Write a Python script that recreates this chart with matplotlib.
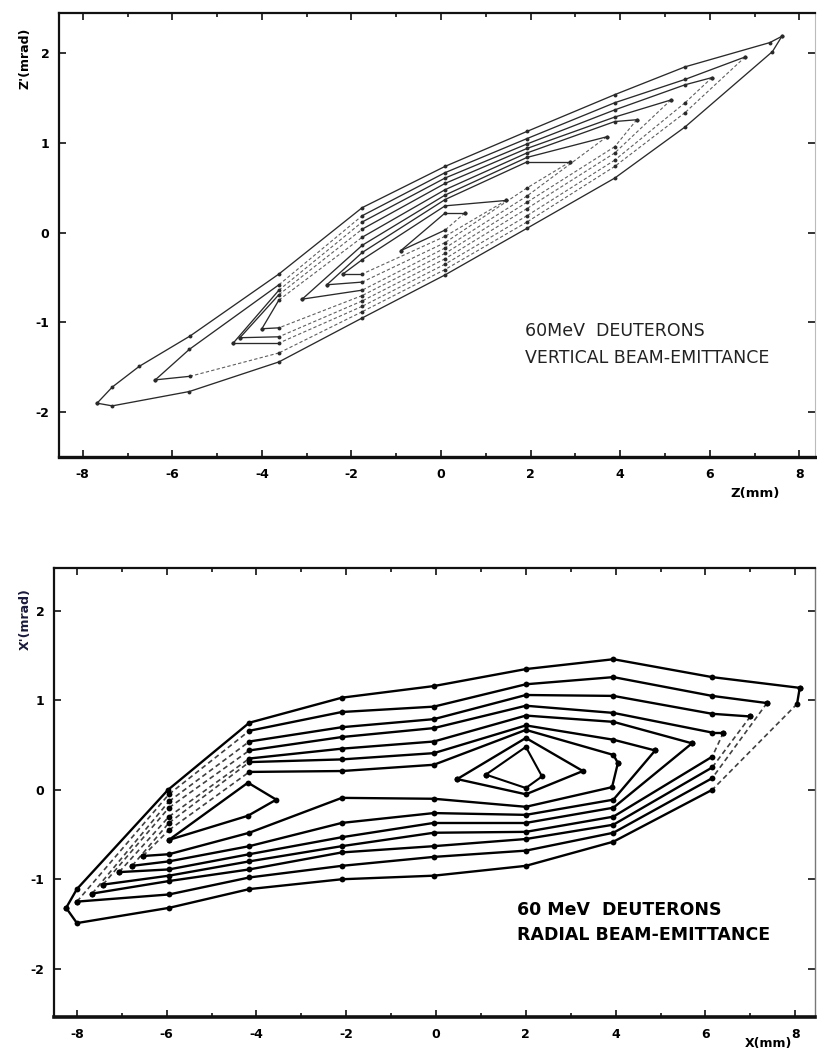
import matplotlib

matplotlib.use("Agg")
import matplotlib.pyplot as plt
from matplotlib.ticker import MultipleLocator, FuncFormatter

plt.rcParams["font.family"] = ["DejaVu Sans"]
plt.rcParams["axes.unicode_minus"] = False

# ---- vertical emittance (top panel): contours split into upper / lower branch
VERT_UPPER_Z = [
    [-7.68, -7.34, -6.74, -5.60, -3.62, -1.76, 0.09, 1.92, 3.88, 5.45, 7.34, 7.61],
    [-6.38, -5.62, -3.62, -1.76, 0.09, 1.92, 3.88, 5.45, 6.79],
    [-4.64, -3.62, -1.76, 0.09, 1.92, 3.88, 5.45, 6.05],
    [-4.49, -3.62, -1.76, 0.09, 1.92, 3.88, 5.13],
    [-4.00, -3.62, -1.76, 0.09, 1.92, 3.88, 4.37],
    [-3.10, -1.76, 0.09, 1.92, 3.70],
    [-2.55, -1.76, 0.09, 1.92, 2.88],
    [-2.19, -1.76, 0.09, 1.45],
    [-0.90, 0.09, 0.53],
]
VERT_UPPER_ZP = [
    [-1.90, -1.72, -1.49, -1.15, -0.46, 0.28, 0.74, 1.13, 1.54, 1.85, 2.12, 2.19],
    [-1.64, -1.30, -0.58, 0.19, 0.67, 1.05, 1.45, 1.71, 1.96],
    [-1.23, -0.64, 0.12, 0.61, 0.99, 1.37, 1.65, 1.73],
    [-1.17, -0.69, 0.04, 0.55, 0.94, 1.29, 1.48],
    [-1.07, -0.75, -0.05, 0.48, 0.89, 1.24, 1.26],
    [-0.74, -0.14, 0.42, 0.84, 1.07],
    [-0.58, -0.22, 0.37, 0.79, 0.79],
    [-0.46, -0.30, 0.30, 0.36],
    [-0.20, 0.22, 0.22],
]
VERT_LOWER_Z = [
    [7.61, 7.40, 5.45, 3.88, 1.92, 0.09, -1.76, -3.62, -5.62, -7.34, -7.68],
    [6.79, 5.45, 3.88, 1.92, 0.09, -1.76, -3.62, -5.60, -6.38],
    [6.05, 5.45, 3.88, 1.92, 0.09, -1.76, -3.62, -4.64],
    [5.13, 3.88, 1.92, 0.09, -1.76, -3.62, -4.49],
    [4.37, 3.88, 1.92, 0.09, -1.76, -3.62, -4.00],
    [3.70, 1.92, 0.09, -1.76, -3.10],
    [2.88, 1.92, 0.09, -1.76, -2.55],
    [1.45, 0.09, -1.76, -2.19],
    [0.53, 0.09, -0.90],
]
VERT_LOWER_ZP = [
    [2.19, 2.02, 1.18, 0.61, 0.05, -0.47, -0.95, -1.44, -1.77, -1.93, -1.90],
    [1.96, 1.34, 0.74, 0.12, -0.41, -0.88, -1.34, -1.60, -1.64],
    [1.73, 1.45, 0.81, 0.19, -0.35, -0.82, -1.23, -1.23],
    [1.48, 0.89, 0.27, -0.29, -0.76, -1.16, -1.17],
    [1.26, 0.96, 0.34, -0.23, -0.70, -1.06, -1.07],
    [1.07, 0.41, -0.17, -0.64, -0.74],
    [0.79, 0.50, -0.11, -0.55, -0.58],
    [0.36, -0.04, -0.46, -0.46],
    [0.22, 0.03, -0.20],
]

# ---- radial emittance (bottom panel)
RAD_UPPER_X = [
    [-8.24, -8.00, -5.97, -4.16, -2.10, -0.05, 2.00, 3.95, 6.15, 8.10],
    [-8.00, -5.95, -4.16, -2.10, -0.05, 2.00, 3.95, 6.15, 7.37],
    [-7.66, -5.95, -4.16, -2.10, -0.05, 2.00, 3.95, 6.15, 7.00],
    [-7.42, -5.95, -4.16, -2.10, -0.05, 2.00, 3.95, 6.15, 6.40],
    [-7.06, -5.95, -4.16, -2.10, -0.05, 2.00, 3.95, 5.70],
    [-6.77, -5.95, -4.16, -2.10, -0.05, 2.00, 3.95, 4.88],
    [-6.53, -5.95, -4.16, -2.10, -0.05, 2.00, 3.95, 4.05],
]
RAD_UPPER_XP = [
    [-1.32, -1.11, 0.00, 0.75, 1.03, 1.16, 1.35, 1.46, 1.26, 1.14],
    [-1.25, -0.05, 0.66, 0.87, 0.93, 1.18, 1.26, 1.05, 0.97],
    [-1.16, -0.13, 0.54, 0.70, 0.79, 1.06, 1.05, 0.85, 0.82],
    [-1.06, -0.20, 0.44, 0.59, 0.69, 0.94, 0.86, 0.64, 0.64],
    [-0.92, -0.30, 0.35, 0.46, 0.54, 0.83, 0.76, 0.52],
    [-0.85, -0.37, 0.31, 0.34, 0.41, 0.72, 0.56, 0.44],
    [-0.74, -0.45, 0.20, 0.21, 0.28, 0.67, 0.39, 0.30],
]
RAD_LOWER_X = [
    [8.10, 8.04, 6.15, 3.95, 2.00, -0.05, -2.10, -4.16, -5.95, -8.00, -8.24],
    [7.37, 6.15, 3.95, 2.00, -0.05, -2.10, -4.16, -5.95, -8.00],
    [7.00, 6.15, 3.95, 2.00, -0.05, -2.10, -4.16, -5.95, -7.66],
    [6.40, 6.15, 3.95, 2.00, -0.05, -2.10, -4.16, -5.95, -7.42],
    [5.70, 3.95, 2.00, -0.05, -2.10, -4.16, -5.95, -7.06],
    [4.88, 3.95, 2.00, -0.05, -2.10, -4.16, -5.95, -6.77],
    [4.05, 3.92, 2.00, -0.05, -2.10, -4.16, -5.95, -6.53],
]
RAD_LOWER_XP = [
    [1.14, 0.96, 0.00, -0.58, -0.85, -0.96, -1.00, -1.11, -1.32, -1.49, -1.32],
    [0.97, 0.13, -0.48, -0.68, -0.75, -0.85, -0.98, -1.17, -1.25],
    [0.82, 0.25, -0.39, -0.55, -0.63, -0.70, -0.89, -1.02, -1.16],
    [0.64, 0.37, -0.30, -0.47, -0.48, -0.63, -0.80, -0.96, -1.06],
    [0.52, -0.20, -0.37, -0.37, -0.53, -0.72, -0.89, -0.92],
    [0.44, -0.11, -0.28, -0.26, -0.37, -0.63, -0.80, -0.85],
    [0.30, 0.03, -0.19, -0.10, -0.09, -0.48, -0.72, -0.74],
]
# small closed islands inside the radial pattern
RAD_LOBE_X = [-5.95, -4.19, -3.56, -4.19, -5.95]
RAD_LOBE_XP = [-0.56, 0.08, -0.11, -0.29, -0.56]
RAD_CORE_B_X = [0.47, 2.00, 3.27, 2.00, 0.47]
RAD_CORE_B_XP = [0.12, 0.58, 0.21, -0.05, 0.12]
RAD_CORE_A_X = [1.11, 2.00, 2.36, 2.00, 1.11]
RAD_CORE_A_XP = [0.17, 0.48, 0.15, 0.02, 0.17]

X_TICKS = [-8, -6, -4, -2, 0, 2, 4, 6, 8]
Y_TICKS = [-2, -1, 0, 1, 2]

DASH = (0, (3.0, 2.0))


def draw_branch(ax, xs, ys, dashed, color, lw, dash_lw, ms):
    for i in range(len(xs) - 1):
        if i in dashed:
            ax.plot(xs[i:i + 2], ys[i:i + 2], color=color, lw=dash_lw, ls=DASH, alpha=0.75)
        else:
            ax.plot(xs[i:i + 2], ys[i:i + 2], color=color, lw=lw, solid_capstyle="round")
    ax.plot(xs, ys, ls="none", marker="o", ms=ms, color=color, mew=0)


def style_axes(ax, xlim, ylim, spine_lw):
    ax.set_xlim(*xlim)
    ax.set_ylim(*ylim)
    ax.set_xticks(X_TICKS)
    ax.set_yticks(Y_TICKS)
    ax.xaxis.set_minor_locator(MultipleLocator(1))
    ax.xaxis.set_major_formatter(FuncFormatter(lambda v, p: f"{int(round(v))}"))
    ax.yaxis.set_major_formatter(FuncFormatter(lambda v, p: f"{int(round(v))}"))
    ax.tick_params(which="both", direction="in", top=True, right=True, width=1.2, color="#111111")
    ax.tick_params(which="major", length=5)
    ax.tick_params(which="minor", length=3)
    ax.tick_params(axis="x", pad=8, labelsize=9)
    ax.tick_params(axis="y", pad=7, labelsize=9)
    for lab in ax.get_xticklabels() + ax.get_yticklabels():
        lab.set_fontweight("bold")
    for side, spine in ax.spines.items():
        spine.set_linewidth(spine_lw if side == "bottom" else 1.6)
        spine.set_color("#111111")
    ax.spines["right"].set_linewidth(0.8)
    ax.spines["right"].set_color("#bbbbbb")


fig = plt.figure(figsize=(8.17, 10.53), dpi=100)
W, H = 817.0, 1053.0

# ---------------- top panel
ax1 = fig.add_axes([59 / W, 1 - 457 / H, (815 - 59) / W, (457 - 13) / H])
for k in range(len(VERT_UPPER_Z)):
    up_dash = set()
    if k > 0:
        up_dash = {i for i, z in enumerate(VERT_UPPER_Z[k][:-1]) if z == -3.62}
    draw_branch(ax1, VERT_UPPER_Z[k], VERT_UPPER_ZP[k], up_dash, "#2a2a2a", 0.95, 0.8, 2.8)
    lo_dash = set(range(len(VERT_LOWER_Z[k]) - 2)) if k > 0 else set()
    draw_branch(ax1, VERT_LOWER_Z[k], VERT_LOWER_ZP[k], lo_dash, "#2a2a2a", 0.95, 0.8, 2.8)
style_axes(ax1, (-8.53, 8.35), (-2.50, 2.45), 2.4)

fig.text(525 / W, 1 - 331 / H, "60MeV  DEUTERONS", fontsize=12.5, color="#222222", va="center")
fig.text(525 / W, 1 - 358 / H, "VERTICAL BEAM-EMITTANCE", fontsize=12.5, color="#222222", va="center")
fig.text(25 / W, 1 - 58 / H, "Z'(mrad)", rotation=90, fontsize=9, fontweight="bold", ha="center", va="center")
fig.text(755 / W, 1 - 493 / H, "Z(mm)", fontsize=9.5, fontweight="bold", ha="center", va="center")

# ---------------- bottom panel
ax2 = fig.add_axes([54 / W, 1 - 1017 / H, (815 - 54) / W, (1017 - 568) / H])
lower_dash_seg = [{1}, {0}, {0}, {0}, set(), set(), set()]
for k in range(len(RAD_UPPER_X)):
    up_dash = {0, 1} if k > 0 else set()
    draw_branch(ax2, RAD_UPPER_X[k], RAD_UPPER_XP[k], up_dash, "black", 1.7, 1.2, 4.2)
    draw_branch(ax2, RAD_LOWER_X[k], RAD_LOWER_XP[k], lower_dash_seg[k], "black", 1.7, 1.2, 4.2)
draw_branch(ax2, RAD_LOBE_X, RAD_LOBE_XP, set(), "black", 1.7, 1.2, 4.2)
draw_branch(ax2, RAD_CORE_B_X, RAD_CORE_B_XP, set(), "black", 1.7, 1.2, 4.2)
draw_branch(ax2, RAD_CORE_A_X, RAD_CORE_A_XP, set(), "black", 1.5, 1.2, 4.2)
style_axes(ax2, (-8.51, 8.44), (-2.54, 2.48), 2.6)
ax2.spines["right"].set_linewidth(1.0)
ax2.spines["right"].set_color("#777777")

fig.text(517 / W, 1 - 910 / H, "60 MeV  DEUTERONS", fontsize=12.5, fontweight="bold", va="center")
fig.text(517 / W, 1 - 935 / H, "RADIAL BEAM-EMITTANCE", fontsize=12.5, fontweight="bold", va="center")
fig.text(25 / W, 1 - 619 / H, "X'(mrad)", rotation=90, fontsize=9, fontweight="bold", ha="center",
         va="center", color="#1a1a3a")
fig.text(768 / W, 1 - 1044 / H, "X(mm)", fontsize=9, fontweight="bold", ha="center", va="center")

fig.savefig("out.png", dpi=100)
